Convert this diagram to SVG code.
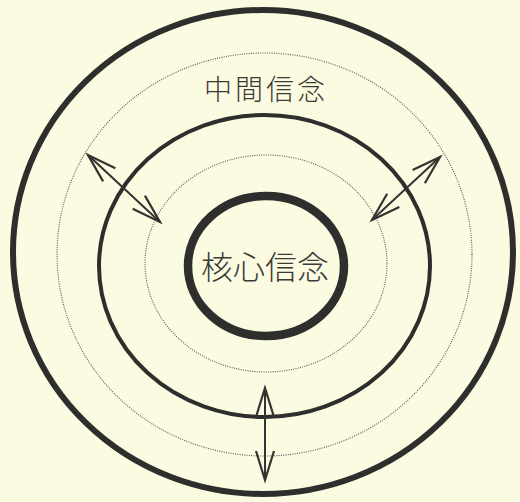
<svg xmlns="http://www.w3.org/2000/svg" width="520" height="502" viewBox="0 0 520 502">
<style>
.bg{fill:#fbfbe2}
.ring{fill:none;stroke:#2e2e2c}
.dot{fill:none;stroke:#55554f;stroke-width:1.1;stroke-dasharray:1 1.3}
.lbl{font-family:"Noto Sans CJK JP","Noto Sans CJK SC",sans-serif;font-weight:300;fill:#3a3a38;text-anchor:middle}
.arr{fill:none;stroke:#333331;stroke-width:2}
</style>
<defs>
<marker id="head" markerUnits="userSpaceOnUse" markerWidth="40" markerHeight="30" refX="32" refY="12" orient="auto-start-reverse" viewBox="0 0 40 24">
<path d="M3,3 L32,12 L3,21" fill="none" stroke="#333331" stroke-width="2.2" stroke-linejoin="miter"/>
</marker>
</defs>
<rect class="bg" x="0" y="0" width="520" height="502"/>
<g id="outer-ring">
<ellipse class="ring" cx="263" cy="252" rx="250" ry="242" stroke-width="6"/>
<ellipse class="dot" cx="264.5" cy="254.5" rx="207.5" ry="201.5"/>
</g>
<g id="intermediate-belief">
<ellipse class="ring" cx="264.5" cy="266" rx="165.5" ry="151" stroke-width="4"/>
<text class="lbl" x="266" y="100" font-size="28" letter-spacing="3">中間信念</text>
</g>
<g id="core-belief">
<ellipse class="dot" cx="266" cy="263.5" rx="121" ry="108.5"/>
<ellipse class="ring" cx="266" cy="266" rx="78" ry="70" stroke-width="8.5"/>
<text class="lbl" x="265" y="279" font-size="32">核心信念</text>
</g>
<g id="connectors">
<line class="arr" x1="88" y1="155" x2="160" y2="222" marker-start="url(#head)" marker-end="url(#head)"/>
<line class="arr" x1="440" y1="157" x2="372" y2="220" marker-start="url(#head)" marker-end="url(#head)"/>
<line class="arr" x1="265" y1="388" x2="265" y2="480" marker-start="url(#head)" marker-end="url(#head)"/>
</g>
</svg>
